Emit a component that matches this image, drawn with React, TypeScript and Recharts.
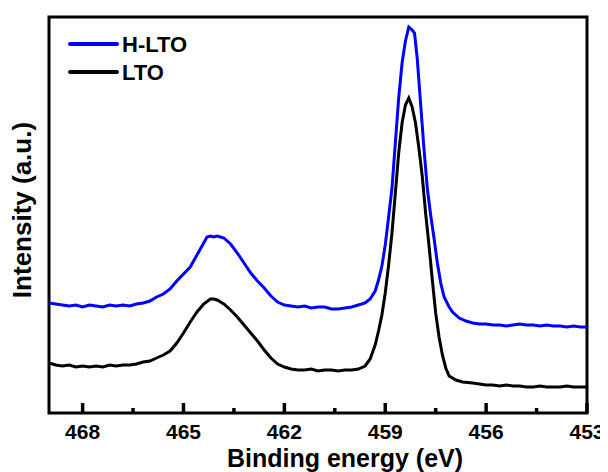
import { LineChart, Line, XAxis, YAxis, Legend, ReferenceArea } from 'recharts';

// Ti 2p spectra, binding energy (eV) vs intensity (a.u.)
const energyHLTO = [
  469.0, 468.8, 468.6, 468.4, 468.2, 468.0, 467.8, 467.6, 467.4, 467.2, 467.0, 466.8, 466.6, 466.4,
  466.2, 466.0, 465.8, 465.6, 465.4, 465.2, 465.0, 464.8, 464.6, 464.4, 464.3, 464.2, 464.1, 464.0,
  463.9, 463.8, 463.6, 463.4, 463.2, 463.0, 462.8, 462.6, 462.4, 462.2, 462.0, 461.8, 461.6, 461.4,
  461.2, 461.0, 460.8, 460.6, 460.4, 460.2, 460.0, 459.8, 459.6, 459.45, 459.3, 459.2, 459.1, 459.0,
  458.9, 458.8, 458.7, 458.6, 458.5, 458.4, 458.3, 458.2, 458.13, 458.05, 457.95, 457.85, 457.75,
  457.65, 457.55, 457.45, 457.35, 457.25, 457.1, 457.0, 456.8, 456.6, 456.4, 456.2, 456.0, 455.8,
  455.6, 455.4, 455.2, 455.0, 454.8, 454.6, 454.4, 454.2, 454.0, 453.8, 453.6, 453.4, 453.2, 453.0,
];
const intensityHLTO = [
  110, 109, 108, 107, 108, 106, 108, 107, 106, 108, 107, 108, 107, 109,
  110, 112, 116, 119, 124, 132, 139, 146, 158, 170, 176, 177, 176, 177,
  176, 175, 169, 160, 150, 140, 132, 125, 117, 111, 108, 107, 106, 107,
  105, 106, 106, 104, 104, 105, 106, 108, 110, 114, 122, 133, 147, 168,
  196, 225, 270, 315, 350, 372, 386, 383, 380, 355, 310, 265, 225,
  198, 175, 150, 130, 116, 106, 101, 95, 92, 90, 89, 89, 88,
  88, 87, 88, 89, 88, 88, 87, 88, 87, 87, 86, 87, 86, 86,
];

const energyLTO = [
  469.0, 468.8, 468.6, 468.4, 468.2, 468.0, 467.8, 467.6, 467.4, 467.2, 467.0, 466.8, 466.6, 466.4,
  466.2, 466.0, 465.8, 465.6, 465.4, 465.2, 465.0, 464.8, 464.6, 464.4, 464.2, 464.1, 464.0, 463.8,
  463.6, 463.4, 463.2, 463.0, 462.8, 462.6, 462.4, 462.2, 462.0, 461.8, 461.6, 461.4, 461.2, 461.0,
  460.8, 460.6, 460.4, 460.2, 460.0, 459.8, 459.6, 459.45, 459.3, 459.2, 459.1, 459.0, 458.9, 458.8,
  458.7, 458.6, 458.5, 458.4, 458.3, 458.2, 458.1, 458.0, 457.9, 457.8, 457.7, 457.6, 457.5, 457.4,
  457.3, 457.2, 457.1, 456.9, 456.7, 456.4, 456.2, 456.0, 455.8, 455.6, 455.4, 455.2, 455.0, 454.8,
  454.6, 454.4, 454.2, 454.0, 453.8, 453.6, 453.4, 453.2, 453.0,
];
const intensityLTO = [
  50, 48, 47, 48, 46, 47, 46, 47, 46, 48, 47, 48, 48, 49,
  51, 52, 55, 58, 62, 70, 80, 91, 101, 109, 114, 114, 113, 109,
  103, 96, 88, 80, 72, 63, 55, 49, 46, 44, 43, 43, 44, 42,
  43, 43, 42, 43, 43, 44, 47, 54, 68, 82, 98, 120, 148, 180,
  220, 260, 290, 308, 315, 306, 290, 265, 237, 200, 168, 133, 100, 76,
  58, 45, 37, 33, 31, 30, 29, 28, 28, 27, 28, 27, 27, 26,
  26, 27, 26, 26, 26, 27, 26, 26, 26,
];

const xTicks = [468, 466.5, 465, 463.5, 462, 460.5, 459, 457.5, 456, 454.5, 453];
const majorTicks = [468, 465, 462, 459, 456, 453];

const seriesNames = ['H-LTO', 'LTO'];
const seriesColors = ['#0000ff', '#000000'];

const hltoData = energyHLTO.map((x, i) => ({ x, y: intensityHLTO[i] }));
const ltoData = energyLTO.map((x, i) => ({ x, y: intensityLTO[i] }));

const FONT = "Arial, 'Liberation Sans', Helvetica, sans-serif";

const renderTick = (props: any) => {
  const { x, y, payload } = props;
  const major = majorTicks.includes(payload.value);
  return (
    <g>
      <line x1={x} x2={x} y1={y} y2={y - (major ? 10 : 5)} stroke="#000" strokeWidth={3.5} />
      {major && (
        <text x={x} y={y + 26} textAnchor="middle" fontSize={21} fontWeight="bold" fontFamily={FONT} fill="#000">
          {payload.value}
        </text>
      )}
    </g>
  );
};

const renderLegend = () => (
  <svg width={200} height={90}>
    {seriesNames.map((name, i) => (
      <g key={name}>
        <line x1={62} x2={109} y1={36 + i * 28} y2={36 + i * 28} stroke={seriesColors[i]} strokeWidth={4} strokeLinecap="round" />
        <text x={114} y={44 + i * 28} fontSize={22} fontWeight="bold" fontFamily={FONT} fill="#000">
          {name}
        </text>
      </g>
    ))}
  </svg>
);

export default function App() {
  return (
    <LineChart width={600} height={464} margin={{ top: 9, right: 21, left: 0, bottom: 0 }}>
      <XAxis
        type="number"
        dataKey="x"
        domain={[453, 469]}
        reversed
        allowDataOverflow
        ticks={xTicks}
        interval={0}
        height={59}
        axisLine={false}
        tickLine={false}
        tickSize={0}
        tickMargin={0}
        tick={renderTick}
        label={() => (
          <text x={337} y={459} textAnchor="middle" fontSize={25} fontWeight="bold" fontFamily={FONT} fill="#000">
            Binding energy (eV)
          </text>
        )}
      />
      <YAxis
        type="number"
        domain={[0, 396]}
        allowDataOverflow
        width={41}
        tick={false}
        axisLine={false}
        tickLine={false}
        label={() => (
          <text
            x={23}
            y={202}
            transform="rotate(-90 23 202)"
            textAnchor="middle"
            fontSize={26}
            fontWeight="bold"
            fontFamily={FONT}
            fill="#000"
          >
            Intensity (a.u.)
          </text>
        )}
      />
      <ReferenceArea x1={469} x2={453} y1={0} y2={396} fill="none" stroke="#000" strokeWidth={3} />
      <Legend
        layout="horizontal"
        verticalAlign="middle"
        align="center"
        content={renderLegend}
        wrapperStyle={{ left: 0, top: 0, width: 200, height: 90 }}
      />
      <Line
        data={hltoData}
        dataKey="y"
        name="H-LTO"
        type="linear"
        stroke="#0000ff"
        strokeWidth={3}
        dot={false}
        isAnimationActive={false}
      />
      <Line
        data={ltoData}
        dataKey="y"
        name="LTO"
        type="linear"
        stroke="#000000"
        strokeWidth={3}
        dot={false}
        isAnimationActive={false}
      />
    </LineChart>
  );
}
